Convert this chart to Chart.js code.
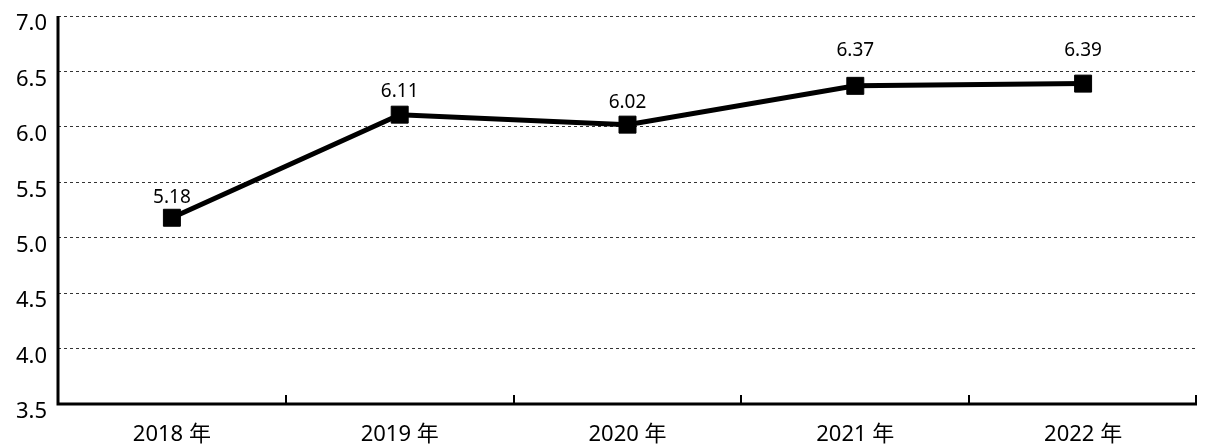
<!DOCTYPE html>
<html>
<head>
<meta charset="utf-8">
<script src="https://cdn.jsdelivr.net/npm/chart.js@4/dist/chart.umd.min.js"></script>
<style>
  html, body { margin: 0; padding: 0; background: #fff; }
  #wrap { width: 1205px; height: 445px; }
</style>
</head>
<body>
<div id="wrap"><canvas id="myChart" width="1205" height="445"></canvas></div>
<script>
var years = ['2018 年', '2019 年', '2020 年', '2021 年', '2022 年'];
var values = [5.18, 6.11, 6.02, 6.37, 6.39];
var yTicks = [3.5, 4.0, 4.5, 5.0, 5.5, 6.0, 6.5, 7.0];
// label lift above each point (keeps labels clear of the gridlines)
var labelLift = [15, 18, 17, 30, 28];

var FONT = '"Noto Sans", "Noto Sans CJK JP", sans-serif';

// value labels above the points
var valueLabels = {
  id: 'valueLabels',
  afterDatasetsDraw: function (chart) {
    var ctx = chart.ctx;
    var meta = chart.getDatasetMeta(0);
    ctx.save();
    ctx.fillStyle = '#000';
    ctx.font = '19px ' + FONT;
    ctx.textAlign = 'center';
    ctx.textBaseline = 'alphabetic';
    meta.data.forEach(function (pt, i) {
      ctx.fillText(values[i].toFixed(2), pt.x, pt.y - labelLift[i]);
    });
    ctx.restore();
  }
};

// axis lines and inward tick marks between categories
var axisLines = {
  id: 'axisLines',
  afterDraw: function (chart) {
    var ctx = chart.ctx;
    var a = chart.chartArea;
    var x = chart.scales.x;
    ctx.save();
    ctx.strokeStyle = '#000';
    ctx.lineWidth = 3;
    ctx.beginPath();
    ctx.moveTo(a.left, a.top);
    ctx.lineTo(a.left, a.bottom);
    ctx.lineTo(a.right, a.bottom);
    ctx.stroke();
    ctx.lineWidth = 2;
    ctx.beginPath();
    for (var i = 0; i <= years.length; i++) {
      var px;
      if (i === 0) px = a.left;
      else if (i === years.length) px = a.right - 1;
      else px = (x.getPixelForValue(i - 1) + x.getPixelForValue(i)) / 2;
      px = Math.round(px);
      ctx.moveTo(px, a.bottom);
      ctx.lineTo(px, a.bottom - 9);
    }
    ctx.stroke();
    ctx.restore();
  }
};

var ctx = document.getElementById('myChart').getContext('2d');
var myChart = new Chart(ctx, {
  type: 'line',
  data: {
    labels: years,
    datasets: [{
      data: values,
      borderColor: '#000',
      backgroundColor: '#000',
      borderWidth: 5,
      pointStyle: 'rect',
      pointRadius: 12,
      pointBorderWidth: 1,
      tension: 0
    }]
  },
  options: {
    responsive: false,
    animation: false,
    layout: { autoPadding: false, padding: { top: 16, right: 8, left: 0, bottom: 0 } },
    plugins: {
      legend: { display: false },
      tooltip: { enabled: false }
    },
    scales: {
      x: {
        offset: true,
        grid: { display: false },
        border: { display: false },
        afterFit: function (axis) {
          axis.height = 41;
          axis.paddingLeft = 0;
          axis.paddingRight = 0;
        },
        ticks: { color: '#000', font: { family: FONT, size: 22, lineHeight: 1 }, padding: 12 }
      },
      y: {
        min: 3.5,
        max: 7.0,
        afterBuildTicks: function (axis) {
          axis.ticks = yTicks.map(function (v) { return { value: v }; });
        },
        afterFit: function (axis) {
          axis.width = 58;
          axis.paddingTop = 0;
          axis.paddingBottom = 0;
        },
        grid: {
          color: '#333',
          lineWidth: 1,
          drawTicks: false
        },
        border: { display: false, dash: [3, 3] },
        ticks: {
          color: '#000',
          font: { family: FONT, size: 22, lineHeight: 1 },
          padding: 11,
          labelOffset: 8,
          callback: function (v) { return v.toFixed(1); }
        }
      }
    }
  },
  plugins: [valueLabels, axisLines]
});
</script>
</body>
</html>
